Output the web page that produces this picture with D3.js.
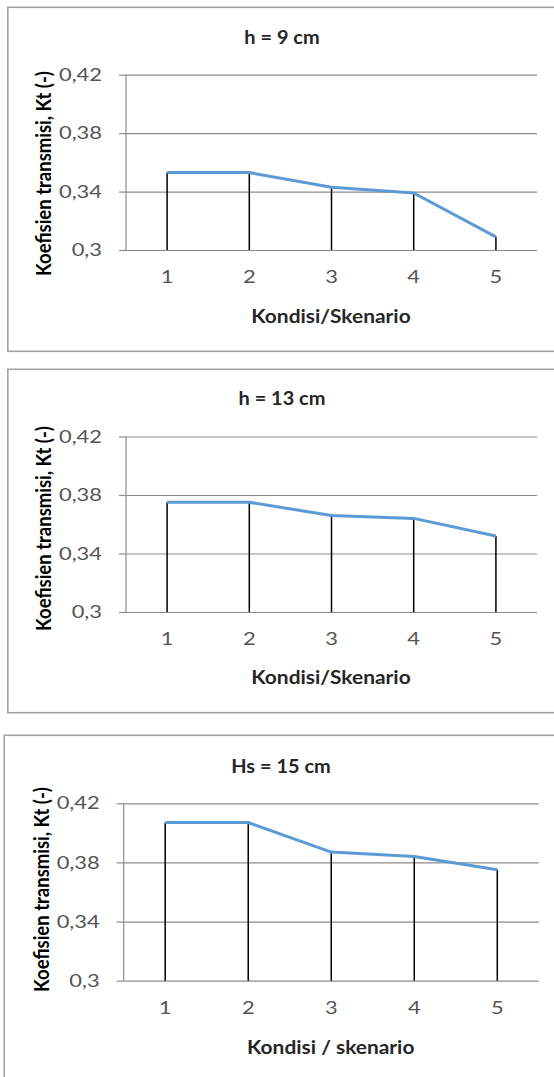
<!DOCTYPE html>
<html>
<head>
<meta charset="utf-8">
<script src="https://cdn.jsdelivr.net/npm/d3@7"></script>
<style>
  html, body { margin: 0; padding: 0; background: #fff; }
  svg { display: block; }
</style>
</head>
<body>
<script>
// Kondisi / skenario on the x axis
const categories = ["1", "2", "3", "4", "5"];

// Koefisien transmisi Kt for each wave height
const kt_h9   = [0.353, 0.353, 0.343, 0.339, 0.309];
const kt_h13  = [0.375, 0.375, 0.366, 0.364, 0.352];
const kt_hs15 = [0.407, 0.407, 0.387, 0.384, 0.375];

const yTicks = [0.3, 0.34, 0.38, 0.42];
const yDomain = [0.3, 0.42];

const titles = ["h = 9 cm", "h = 13 cm", "Hs = 15 cm"];
const xTitles = ["Kondisi/Skenario", "Kondisi/Skenario", "Kondisi / skenario"];
const yTitle = "Koefisien transmisi, Kt (-)";

const W = 554, H = 1077;
const svg = d3.select("body").append("svg").attr("width", W).attr("height", H);

const FONT = "Lato, 'Open Sans', sans-serif";

// widen a text element horizontally by a factor, keeping its anchor
function stretch(sel, k) {
  sel.each(function () {
    const len = this.getComputedTextLength();
    d3.select(this).attr("textLength", len * k).attr("lengthAdjust", "spacingAndGlyphs");
  });
}

// layout of the three stacked chart boxes
const panels = [
  { frame: [7.8, 7.3, 560, 344], plot: { left: 126, right: 537, top: 74.7, bottom: 250 },
    values: kt_h9, titleX: 282, titleY: 36, xTitleY: 315, yTitleX: 43.5, yTitleY: 173.5 },
  { frame: [7.8, 369.3, 560, 343.4], plot: { left: 126, right: 537, top: 436.5, bottom: 612 },
    values: kt_h13, titleX: 282, titleY: 397.3, xTitleY: 676.7, yTitleX: 43.5, yTitleY: 528.5 },
  { frame: [4.2, 735.3, 560, 360], plot: { left: 123.7, right: 538.8, top: 803.3, bottom: 980.7 },
    values: kt_hs15, titleX: 281, titleY: 765, xTitleY: 1046.7, yTitleX: 41, yTitleY: 889.5 }
];

panels.forEach((p, i) => {
  const g = svg.append("g");
  const [fx, fy, fw, fh] = p.frame;
  g.append("rect")
    .attr("x", fx).attr("y", fy).attr("width", fw).attr("height", fh)
    .attr("fill", "#fff").attr("stroke", "#a3a3a3").attr("stroke-width", 1.6);

  const x = d3.scaleBand().domain(categories).range([p.plot.left, p.plot.right]);
  const y = d3.scaleLinear().domain(yDomain).range([p.plot.bottom, p.plot.top]);
  const cx = c => x(c) + x.bandwidth() / 2;

  // left axis with gridlines running across the plot
  const yAxis = g.append("g")
    .attr("transform", `translate(${p.plot.left},0)`)
    .call(d3.axisLeft(y).tickValues(yTicks)
      .tickSize(7).tickPadding(17)
      .tickFormat(d => d3.format(".2~f")(d).replace(".", ",")));
  yAxis.select(".domain").attr("stroke", "#8c8c8c").attr("stroke-width", 1.2)
    .attr("d", `M0,${p.plot.bottom}V${p.plot.top}`);
  yAxis.selectAll(".tick line").attr("stroke", "#8c8c8c").attr("stroke-width", 1.2);
  yAxis.selectAll(".tick").append("line")
    .attr("x1", 0).attr("x2", p.plot.right - p.plot.left)
    .attr("stroke", "#8c8c8c").attr("stroke-width", 1.2);
  yAxis.selectAll(".tick text")
    .attr("fill", "#545454").attr("font-family", FONT).attr("font-size", 17.5)
    .call(stretch, 1.25);

  // category labels
  const xAxis = g.append("g")
    .attr("transform", `translate(0,${p.plot.bottom})`)
    .call(d3.axisBottom(x).tickSize(0).tickPadding(21));
  xAxis.select(".domain").remove();
  xAxis.selectAll(".tick text")
    .attr("fill", "#545454").attr("font-family", FONT).attr("font-size", 17.5)
    .call(stretch, 1.25);

  // drop lines from each point to the baseline
  g.selectAll(".drop").data(p.values).enter().append("line")
    .attr("x1", (d, j) => cx(categories[j]))
    .attr("x2", (d, j) => cx(categories[j]))
    .attr("y1", d => y(d)).attr("y2", y(yDomain[0]))
    .attr("stroke", "#000").attr("stroke-width", 1.5);

  // series line
  const line = d3.line()
    .x((d, j) => cx(categories[j]))
    .y(d => y(d));
  g.append("path").datum(p.values)
    .attr("d", line)
    .attr("fill", "none").attr("stroke", "#5b9bd5").attr("stroke-width", 3)
    .attr("stroke-linejoin", "round");

  // chart title
  g.append("text")
    .attr("x", p.titleX).attr("y", p.titleY)
    .attr("text-anchor", "middle").attr("dominant-baseline", "central")
    .attr("font-family", FONT).attr("font-weight", "bold").attr("font-size", 19)
    .attr("fill", "#262626").text(titles[i])
    .call(stretch, 1.05);

  // x axis title
  g.append("text")
    .attr("x", (p.plot.left + p.plot.right) / 2 - 0.5).attr("y", p.xTitleY)
    .attr("text-anchor", "middle").attr("dominant-baseline", "central")
    .attr("font-family", FONT).attr("font-weight", "bold").attr("font-size", 19)
    .attr("fill", "#262626").text(xTitles[i])
    .call(stretch, 1.1);

  // y axis title, rotated and slightly widened across its glyphs
  g.append("text")
    .attr("transform", `translate(${p.yTitleX},${p.yTitleY}) scale(1.1,1) rotate(-90)`)
    .attr("text-anchor", "middle").attr("dominant-baseline", "central")
    .attr("font-family", FONT).attr("font-weight", "bold").attr("font-size", 18.5)
    .attr("fill", "#000").text(yTitle);
});
</script>
</body>
</html>
